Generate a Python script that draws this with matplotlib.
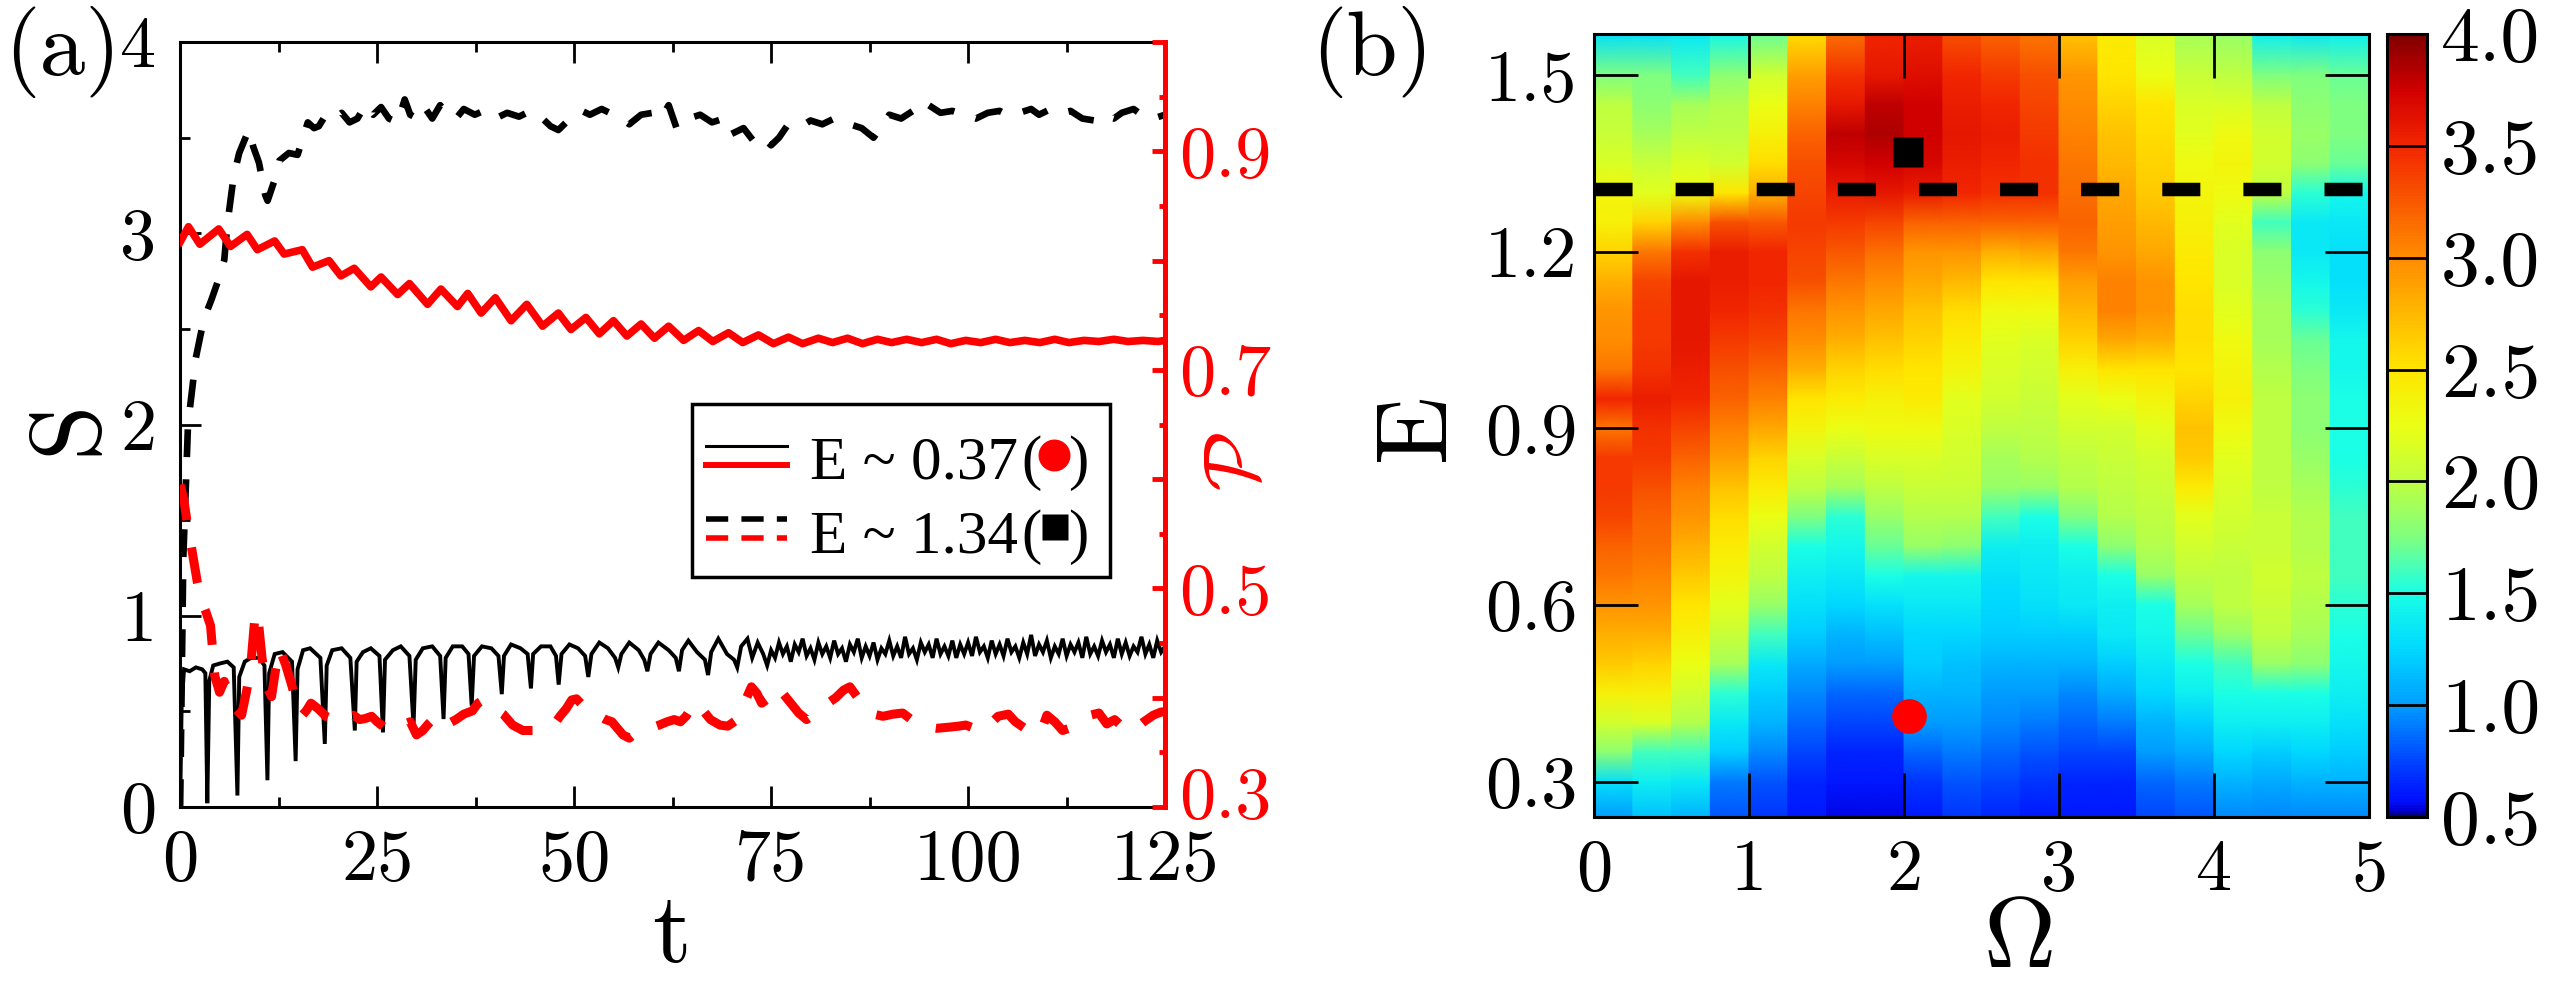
import numpy as np
import matplotlib
matplotlib.use("Agg")
import matplotlib.pyplot as plt
from matplotlib.colors import LinearSegmentedColormap
from matplotlib.patches import Rectangle
from matplotlib.ticker import MultipleLocator, FixedLocator
from matplotlib.transforms import ScaledTranslation

plt.rcParams['font.family'] = 'cmr10'
plt.rcParams['mathtext.fontset'] = 'cm'
plt.rcParams['axes.formatter.use_mathtext'] = True
plt.rcParams['lines.scale_dashes'] = False

# ---------------- panel (a) data ----------------
# S(t), E ~ 0.37 (black solid): early part with periodic dips
t_s037 = [0, 0.2, 0.5, 1.2, 2.0, 2.8, 3.2, 3.45, 3.7, 4.2, 5.0, 6.0, 6.8, 7.27, 7.5, 8.2,
          9.0, 10.0, 10.7, 11.08, 11.3, 12.0, 13.0, 14.2, 14.66, 14.9, 15.6, 16.5, 17.8,
          18.36, 18.6, 19.3, 20.5, 21.6, 22.17, 22.4, 23.2, 24.2, 25.3, 25.74, 26.0, 27.0,
          28.0, 29.1, 29.62, 29.9, 30.8, 32.0, 33.0, 33.43, 33.7, 34.6, 35.8, 36.6, 37.0,
          37.3, 38.3, 39.5, 40.4, 40.82, 41.1, 42.0, 43.2, 44.1, 44.52, 44.8, 45.8, 47.0,
          47.7, 48.04, 48.4, 49.4, 50.5, 51.4, 51.8, 52.2, 53.2, 54.3, 55.2, 55.6, 56.0,
          57.0, 58.2, 58.9, 59.3, 59.7, 60.7, 62.0, 62.9, 63.3, 63.7, 64.5, 65.6, 66.6,
          67.0, 67.4, 68.3, 69.4, 70.3, 70.7, 71.2, 72.0, 72.6, 73.3, 74.0, 74.5]
S_s037 = [0, 0.55, 0.72, 0.71, 0.73, 0.72, 0.70, 0.02, 0.66, 0.74, 0.75, 0.76, 0.73, 0.06,
          0.68, 0.76, 0.78, 0.78, 0.74, 0.14, 0.70, 0.80, 0.81, 0.76, 0.24, 0.72, 0.82, 0.83,
          0.78, 0.33, 0.74, 0.82, 0.83, 0.78, 0.40, 0.76, 0.81, 0.83, 0.79, 0.39, 0.77, 0.82,
          0.84, 0.79, 0.42, 0.77, 0.83, 0.84, 0.79, 0.46, 0.78, 0.84, 0.84, 0.80, 0.53, 0.79,
          0.84, 0.83, 0.79, 0.59, 0.79, 0.85, 0.83, 0.80, 0.62, 0.80, 0.84, 0.84, 0.79, 0.64,
          0.80, 0.85, 0.83, 0.79, 0.68, 0.80, 0.86, 0.83, 0.78, 0.73, 0.80, 0.86, 0.82, 0.77,
          0.71, 0.80, 0.86, 0.82, 0.78, 0.71, 0.82, 0.87, 0.81, 0.77, 0.69, 0.81, 0.88, 0.80,
          0.77, 0.73, 0.84, 0.88, 0.78, 0.86, 0.80, 0.74]
# late noisy part, sampled every 0.5 from t = 75 to 125
t_s037_late = np.arange(75.0, 125.01, 0.5)
S_s037_late = [0.82, 0.78, 0.86, 0.80, 0.84, 0.76, 0.85, 0.81, 0.88, 0.79,
               0.83, 0.77, 0.86, 0.80, 0.84, 0.78, 0.87, 0.80, 0.83, 0.76,
               0.85, 0.81, 0.88, 0.78, 0.84, 0.79, 0.86, 0.77, 0.83, 0.80,
               0.87, 0.79, 0.84, 0.78, 0.89, 0.80, 0.83, 0.77, 0.86, 0.81,
               0.85, 0.78, 0.88, 0.80, 0.84, 0.79, 0.87, 0.78, 0.85, 0.80,
               0.86, 0.79, 0.89, 0.81, 0.84, 0.78, 0.87, 0.80, 0.85, 0.79,
               0.88, 0.81, 0.84, 0.78, 0.86, 0.80, 0.90, 0.79, 0.85, 0.81,
               0.87, 0.78, 0.84, 0.80, 0.88, 0.79, 0.85, 0.81, 0.86, 0.78,
               0.89, 0.80, 0.84, 0.79, 0.87, 0.81, 0.85, 0.78, 0.88, 0.80,
               0.86, 0.79, 0.84, 0.81, 0.89, 0.80, 0.85, 0.78, 0.87, 0.81,
               0.84]

# S(t), E ~ 1.34 (black dashed)
t_s134 = [0.0, 0.4, 1.0, 2.0, 3.0, 3.95, 4.8, 5.6, 6.0, 6.8,
          7.5, 8.3, 8.7, 9.3, 10.0, 10.8, 11.1, 12.0, 12.6, 13.8,
          14.9, 15.6, 16.2, 17.0, 17.6, 18.5, 19.5, 20.5, 21.5, 22.5,
          23.5, 24.5, 25.5, 26.5, 27.6, 28.5, 29.2, 30.1, 31.0, 32.0,
          33.0, 34.0, 35.0, 36.0, 37.4, 38.5, 40.0, 41.5, 43.0, 44.5,
          46.0, 47.0, 48.0, 49.5, 51.0, 52.0, 53.5, 55.0, 56.0, 57.0,
          58.5, 60.0, 61.0, 62.0, 63.0, 64.5, 66.0, 67.5, 69.0, 70.0,
          71.5, 73.0, 74.0, 75.0, 76.0, 77.0, 78.5, 80.0, 81.5, 83.0,
          84.0, 85.0, 86.5, 88.0, 89.0, 90.0, 91.5, 93.0, 94.0, 95.0,
          96.5, 98.0, 99.5, 101.0, 102.5, 104.0, 105.0, 106.5, 108.0, 109.0,
          110.5, 112.0, 113.0, 114.5, 116.0, 117.0, 118.5, 119.5, 121.0, 122.0,
          123.5, 125.0]
S_s134 = [0.0, 1.3, 2.0, 2.35, 2.55, 2.65, 2.75, 2.86, 3.05, 3.3,
          3.42, 3.5, 3.54, 3.45, 3.37, 3.2, 3.17, 3.28, 3.38, 3.42,
          3.41, 3.5, 3.58, 3.55, 3.56, 3.62, 3.6, 3.63, 3.58, 3.6,
          3.67, 3.62, 3.66, 3.6, 3.58, 3.7, 3.62, 3.6, 3.66, 3.6,
          3.67, 3.62, 3.6, 3.65, 3.62, 3.64, 3.6, 3.63, 3.61, 3.64,
          3.6, 3.56, 3.54, 3.6, 3.64, 3.62, 3.65, 3.62, 3.6, 3.57,
          3.62, 3.63, 3.6, 3.67, 3.55, 3.6, 3.62, 3.58, 3.6, 3.52,
          3.55, 3.47, 3.5, 3.46, 3.5, 3.56, 3.55, 3.59, 3.57, 3.6,
          3.58, 3.57, 3.55, 3.5, 3.56, 3.62, 3.6, 3.64, 3.62, 3.67,
          3.63, 3.64, 3.62, 3.6, 3.63, 3.64, 3.62, 3.63, 3.65, 3.62,
          3.65, 3.63, 3.64, 3.6, 3.59, 3.62, 3.6, 3.63, 3.65, 3.62,
          3.6, 3.62]

# P(t), E ~ 0.37 (red solid)
t_p037 = [0, 1.06, 2.5, 4.9, 6.4, 8.5, 9.8, 12.0, 13.2, 15.5,
          16.8, 18.9, 20.4, 22.1, 24.2, 25.5, 27.6, 29.1, 31.4, 33.1,
          35.2, 36.5, 38.2, 40.0, 42.0, 44.0, 46.0, 48.0, 49.6, 51.5,
          53.2, 55.0, 56.7, 58.5, 60.2, 62.0, 63.9, 65.8, 67.6, 69.6,
          71.4, 73.4, 75.3, 77.2, 79.0, 81.0, 82.8, 84.7, 86.6, 88.5,
          90.3, 92.2, 94.1, 96.0, 97.8, 99.7, 101.6, 103.5, 105.3, 107.2,
          109.1, 111.0, 112.8, 114.7, 116.6, 118.5, 120.3, 122.2, 124.1, 125.0]
P_p037 = [0.817, 0.831, 0.815, 0.829, 0.813, 0.824, 0.81, 0.818, 0.806, 0.81,
          0.794, 0.80, 0.786, 0.793, 0.776, 0.785, 0.769, 0.779, 0.76, 0.774,
          0.758, 0.77, 0.752, 0.766, 0.745, 0.76, 0.74, 0.752, 0.737, 0.748,
          0.733, 0.745, 0.731, 0.742, 0.729, 0.74, 0.727, 0.736, 0.726, 0.734,
          0.725, 0.732, 0.724, 0.730, 0.724, 0.729, 0.725, 0.729, 0.724, 0.728,
          0.725, 0.728, 0.725, 0.728, 0.724, 0.727, 0.725, 0.728, 0.725, 0.727,
          0.725, 0.728, 0.725, 0.727, 0.726, 0.728, 0.726, 0.727, 0.726, 0.727]

# P(t), E ~ 1.34 (red dashed)
t_p134 = [0, 0.5, 1.0, 1.5, 2.2, 2.7, 3.3, 3.86, 4.4, 5.0,
          5.6, 6.4, 7.0, 7.8, 8.4, 8.9, 9.55, 10.0, 10.4, 11.0,
          11.6, 12.1, 12.6, 13.4, 14.1, 14.8, 15.5, 16.0, 16.6, 17.5,
          18.5, 19.5, 20.6, 21.3, 22.0, 22.8, 23.5, 24.3, 25.0, 25.7,
          26.3, 27.5, 28.5, 29.2, 30.0, 30.8, 31.5, 32.5, 33.7, 35.0,
          36.0, 37.1, 37.8, 38.5, 39.2, 40.0, 41.0, 42.2, 43.5, 45.0,
          46.3, 47.4, 48.2, 49.0, 49.7, 50.3, 51.1, 51.9, 53.0, 54.0,
          54.8, 55.5, 56.2, 57.0, 57.5, 58.5, 59.6, 60.8, 61.8, 62.7,
          63.5, 64.2, 65.0, 65.5, 66.4, 67.3, 68.5, 69.5, 70.7, 71.6,
          72.5, 73.2, 73.8, 74.8, 75.8, 76.6, 77.5, 78.5, 79.5, 80.5,
          81.5, 82.4, 83.2, 84.2, 85.0, 86.0, 87.0, 88.0, 89.2, 90.5,
          91.7, 92.8, 93.8, 94.9, 96.0, 97.5, 98.8, 99.7, 100.8, 101.8,
          102.8, 103.8, 105.1, 106.0, 107.2, 108.3, 109.2, 110.0, 111.0, 112.0,
          112.8, 113.6, 114.5, 115.5, 116.6, 117.6, 118.6, 119.5, 120.4, 121.3,
          122.3, 123.5, 124.5, 125.0]
P_p134 = [0.595, 0.58, 0.555, 0.535, 0.505, 0.489, 0.478, 0.466, 0.42, 0.405,
          0.415, 0.401, 0.39, 0.384, 0.405, 0.424, 0.479, 0.465, 0.436, 0.41,
          0.401, 0.425, 0.445, 0.43, 0.413, 0.395, 0.384, 0.388, 0.395, 0.39,
          0.383, 0.38, 0.378, 0.383, 0.384, 0.38, 0.381, 0.383, 0.378, 0.374,
          0.37, 0.372, 0.376, 0.378, 0.366, 0.37, 0.376, 0.383, 0.375, 0.38,
          0.385, 0.388, 0.395, 0.398, 0.393, 0.39, 0.385, 0.375, 0.37, 0.37,
          0.372, 0.375, 0.383, 0.39, 0.398, 0.399, 0.393, 0.39, 0.384, 0.38,
          0.378, 0.372, 0.366, 0.363, 0.366, 0.37, 0.372, 0.375, 0.378, 0.38,
          0.378, 0.383, 0.392, 0.396, 0.388, 0.38, 0.375, 0.374, 0.38, 0.395,
          0.41, 0.404, 0.395, 0.4, 0.41, 0.403, 0.395, 0.386, 0.38, 0.385,
          0.39, 0.396, 0.40, 0.407, 0.41, 0.4, 0.39, 0.385, 0.383, 0.385,
          0.386, 0.38, 0.376, 0.373, 0.372, 0.373, 0.374, 0.375, 0.372, 0.37,
          0.376, 0.383, 0.385, 0.378, 0.372, 0.37, 0.368, 0.384, 0.378, 0.37,
          0.372, 0.374, 0.38, 0.384, 0.386, 0.376, 0.38, 0.374, 0.37, 0.372,
          0.378, 0.384, 0.387, 0.387]

legend_labels = ["E ~ 0.37", "E ~ 1.34"]

# ---------------- panel (b) data ----------------
omega_edges = np.linspace(0, 5, 21)
# E rows, top to bottom
E_rows = [1.57, 1.50, 1.45, 1.40, 1.35, 1.30, 1.25, 1.20, 1.15, 1.10, 1.05, 1.00, 0.95,
          0.90, 0.85, 0.80, 0.75, 0.70, 0.65, 0.60, 0.55, 0.50, 0.45, 0.40, 0.35, 0.30, 0.24]
# one list per Omega column (0-0.25, 0.25-0.5, ...), values top to bottom
col00 = [1.3, 1.75, 2.0, 2.05, 2.15, 2.35, 2.4, 2.6, 2.8, 2.95, 3.0, 3.1, 3.5, 3.1, 3.4, 3.4, 3.35, 3.2, 3.1, 2.95, 2.8, 2.65, 2.4, 2.1, 1.8, 1.3, 1.0]
col01 = [1.3, 1.75, 1.8, 1.9, 2.05, 2.2, 2.6, 3.1, 3.35, 3.4, 3.4, 3.45, 3.55, 3.45, 3.4, 3.3, 3.2, 3.15, 3.05, 2.95, 2.8, 2.6, 2.4, 2.15, 1.6, 1.4, 1.15]
col02 = [1.35, 1.6, 1.9, 2.0, 2.15, 2.3, 3.0, 3.45, 3.6, 3.6, 3.6, 3.55, 3.5, 3.35, 3.2, 3.05, 2.95, 2.8, 2.65, 2.5, 2.4, 2.25, 2.1, 1.95, 1.6, 1.35, 1.1]
col03 = [1.45, 1.8, 1.95, 2.0, 2.1, 2.5, 3.3, 3.55, 3.55, 3.5, 3.4, 3.3, 3.2, 3.05, 2.9, 2.7, 2.55, 2.45, 2.35, 2.2, 2.05, 1.9, 1.55, 1.35, 1.2, 0.9, 0.8]
col04 = [1.7, 2.1, 2.25, 2.4, 2.55, 2.8, 3.25, 3.5, 3.5, 3.45, 3.35, 3.2, 3.05, 2.85, 2.6, 2.45, 2.25, 2.1, 2.0, 1.85, 1.6, 1.35, 1.2, 1.1, 0.95, 0.8, 0.7]
col05 = [2.55, 2.9, 3.05, 3.2, 3.3, 3.35, 3.4, 3.35, 3.3, 3.1, 3.0, 2.8, 2.5, 2.35, 2.15, 2.0, 1.75, 1.5, 1.4, 1.3, 1.2, 1.05, 0.95, 0.85, 0.75, 0.65, 0.6]
col06 = [3.15, 3.45, 3.6, 3.8, 3.7, 3.55, 3.4, 3.25, 3.1, 2.95, 2.8, 2.6, 2.45, 2.25, 2.05, 1.9, 1.55, 1.45, 1.35, 1.25, 1.1, 1.0, 0.85, 0.75, 0.65, 0.6, 0.55]
col07 = [3.5, 3.6, 3.8, 3.85, 3.75, 3.6, 3.35, 3.15, 3.0, 2.85, 2.7, 2.55, 2.4, 2.3, 2.15, 2.0, 1.85, 1.7, 1.5, 1.3, 1.15, 1.0, 0.85, 0.75, 0.65, 0.6, 0.55]
col08 = [3.55, 3.65, 3.75, 3.75, 3.7, 3.55, 3.2, 2.95, 2.85, 2.7, 2.6, 2.5, 2.45, 2.3, 2.15, 2.05, 1.95, 1.85, 1.45, 1.35, 1.25, 1.2, 1.1, 1.0, 0.85, 0.7, 0.6]
col09 = [3.3, 3.5, 3.55, 3.6, 3.55, 3.5, 3.2, 2.95, 2.75, 2.55, 2.45, 2.35, 2.2, 2.15, 2.1, 2.05, 1.95, 1.8, 1.45, 1.35, 1.25, 1.15, 1.1, 1.0, 0.9, 0.8, 0.7]
col10 = [3.2, 3.4, 3.5, 3.55, 3.5, 3.45, 3.2, 2.8, 2.5, 2.3, 2.2, 2.15, 2.1, 2.0, 1.9, 1.85, 1.6, 1.4, 1.3, 1.25, 1.2, 1.1, 1.0, 0.95, 0.85, 0.75, 0.65]
col11 = [3.1, 3.3, 3.35, 3.4, 3.45, 3.45, 3.2, 2.85, 2.5, 2.3, 2.15, 2.1, 2.05, 2.0, 1.95, 1.85, 1.5, 1.4, 1.35, 1.3, 1.2, 1.1, 1.0, 0.9, 0.8, 0.7, 0.6]
col12 = [2.7, 2.95, 3.0, 3.05, 3.1, 3.15, 3.2, 3.1, 2.9, 2.75, 2.6, 2.4, 2.2, 2.1, 2.0, 1.95, 1.75, 1.5, 1.4, 1.35, 1.2, 1.1, 0.95, 0.85, 0.75, 0.65, 0.6]
col13 = [2.45, 2.5, 2.6, 2.7, 2.75, 2.85, 2.9, 2.95, 3.05, 3.05, 2.85, 2.5, 2.25, 2.1, 2.05, 2.0, 1.95, 1.8, 1.5, 1.4, 1.35, 1.2, 1.05, 0.9, 0.75, 0.65, 0.6]
col14 = [2.15, 2.25, 2.5, 2.55, 2.6, 2.65, 2.75, 2.85, 2.95, 2.95, 2.8, 2.5, 2.35, 2.2, 2.1, 2.05, 2.0, 1.95, 1.85, 1.5, 1.45, 1.35, 1.25, 1.1, 1.0, 0.85, 0.75]
col15 = [1.9, 2.05, 2.15, 2.2, 2.3, 2.35, 2.4, 2.45, 2.5, 2.55, 2.55, 2.5, 2.6, 2.7, 2.65, 2.45, 2.2, 2.1, 2.0, 1.9, 1.7, 1.5, 1.4, 1.2, 1.05, 0.9, 0.8]
col16 = [1.85, 2.0, 2.15, 2.3, 2.35, 2.3, 2.2, 2.15, 2.15, 2.2, 2.3, 2.35, 2.4, 2.3, 2.2, 2.15, 2.1, 2.05, 2.0, 2.0, 1.85, 1.6, 1.5, 1.4, 1.25, 1.1, 0.95]
col17 = [1.4, 1.75, 2.0, 2.1, 2.1, 2.0, 1.6, 1.8, 1.85, 1.9, 1.9, 1.95, 2.0, 2.0, 2.0, 2.0, 2.05, 2.05, 2.1, 2.05, 2.0, 1.85, 1.5, 1.4, 1.2, 1.05, 0.95]
col18 = [1.35, 1.75, 1.8, 1.85, 1.8, 1.55, 1.35, 1.35, 1.45, 1.55, 1.7, 1.75, 1.8, 1.8, 1.85, 1.9, 1.95, 1.95, 2.0, 1.95, 1.9, 1.8, 1.5, 1.4, 1.25, 1.1, 0.95]
col19 = [1.4, 1.7, 1.75, 1.75, 1.7, 1.45, 1.35, 1.3, 1.3, 1.35, 1.45, 1.45, 1.5, 1.5, 1.5, 1.55, 1.6, 1.6, 1.6, 1.55, 1.5, 1.45, 1.4, 1.3, 1.2, 1.1, 0.95]
E_cut = 1.306
point_circle = (2.03, 0.412)
point_square = (2.024, 1.37)

# ---------------- figure ----------------
fig = plt.figure(figsize=(25.55, 9.85), dpi=100)

TICK_FS = 52
LAB_FS = 72

# ======== panel (a) ========
axA = fig.add_axes([0.0705, 0.1807, 0.3855, 0.7766])
axA.plot(list(t_s037) + list(t_s037_late), S_s037 + S_s037_late, color='black', lw=2.8,
         solid_joinstyle='miter')
axA.plot(t_s134, S_s134, color='black', lw=4.8, dashes=(20, 16), dash_capstyle='butt')
axA.set_xlim(0, 125)
axA.set_ylim(0, 4)
axA.set_xticks([0, 25, 50, 75, 100, 125])
axA.set_xticklabels(['0', '25', '50', '75', '100', '125'])
axA.xaxis.set_minor_locator(MultipleLocator(12.5))
axA.set_yticks([0, 1, 2, 3, 4])
axA.set_yticklabels(['0', '1', '2', '3', '4'])
axA.yaxis.set_minor_locator(MultipleLocator(0.5))
axA.tick_params(which='both', direction='in', top=True, right=False, width=2,
                labelsize=TICK_FS)
axA.tick_params(which='major', length=15)
axA.tick_params(which='minor', length=7.5)
axA.tick_params(axis='y', pad=17)
axA.tick_params(axis='x', pad=16)
for s in ['left', 'top', 'bottom']:
    axA.spines[s].set_linewidth(2.2)
axA.spines['right'].set_visible(False)

axP = axA.twinx()
axP.plot(t_p037, P_p037, color='red', lw=5.5)
axP.plot(t_p134, P_p134, color='red', lw=6.5, dashes=(26, 20), dash_capstyle='butt')
axP.set_ylim(0.3, 1.0)
axP.yaxis.set_major_locator(FixedLocator([0.3, 0.4, 0.5, 0.6, 0.7, 0.8, 0.9, 1.0]))
axP.set_yticklabels(['0.3', '', '0.5', '', '0.7', '', '0.9', ''])
axP.yaxis.set_minor_locator(MultipleLocator(0.05))
axP.tick_params(which='both', direction='in', color='red', labelcolor='red', width=3.5,
                labelsize=TICK_FS, pad=10)
axP.tick_params(which='major', length=9.5)
axP.tick_params(which='minor', length=4)
for s in ['left', 'top', 'bottom']:
    axP.spines[s].set_visible(False)
axP.spines['right'].set_color('red')
axP.spines['right'].set_linewidth(3.6)
# the lowest right label sits a little above its tick, as in the original
low_lab = axP.yaxis.get_major_ticks()[0].label2
low_lab.set_transform(low_lab.get_transform() +
                      ScaledTranslation(0, 14 / 100, fig.dpi_scale_trans))

# legend box, drawn by hand
tr = axP.transAxes
axP.add_patch(Rectangle((0.52, 0.3007), 0.424, 0.2261, transform=tr, facecolor='white',
                        edgecolor='black', lw=2.5, zorder=5))
axP.plot([0.534, 0.616], [0.4719, 0.4719], transform=tr, color='black', lw=2.2, zorder=6)
axP.plot([0.534, 0.616], [0.4470, 0.4470], transform=tr, color='red', lw=4.3, zorder=6)
axP.plot([0.534, 0.616], [0.3765, 0.3765], transform=tr, color='black', lw=4.0, zorder=6,
         dashes=(16, 9.5), dash_capstyle='butt')
axP.plot([0.534, 0.616], [0.3516, 0.3516], transform=tr, color='red', lw=4.0, zorder=6,
         dashes=(16, 9.5), dash_capstyle='butt')
for lbl, yb in zip(legend_labels, [0.430, 0.3333]):
    axP.text(0.6396, yb, lbl, transform=tr, ha='left', va='baseline', fontsize=44,
             family='Liberation Serif', zorder=7)
    axP.text(0.864, yb, '(', transform=tr, ha='center', va='baseline', fontsize=44,
             family='Liberation Serif', zorder=7)
    axP.text(0.9117, yb, ')', transform=tr, ha='center', va='baseline', fontsize=44,
             family='Liberation Serif', zorder=7)
axP.plot([0.887], [0.460], 'o', transform=tr, color='red', ms=23, mec='none', zorder=7,
         clip_on=False)
axP.plot([0.888], [0.3664], 's', transform=tr, color='black', ms=19, mec='none', zorder=7,
         clip_on=False)

fig.text(0.0274, 0.5665, 'S', rotation=90, ha='center', va='center', fontsize=LAB_FS)
fig.text(0.263, 0.0487, 't', ha='center', va='center', fontsize=LAB_FS)
fig.text(0.4850, 0.531, r'$\mathcal{P}$', rotation=90, ha='center', va='center',
         fontsize=56, color='red')
fig.text(0.0245, 0.947, '(a)', ha='center', va='center', fontsize=66)

# ======== panel (b) ========
cmap = LinearSegmentedColormap.from_list('jetlike', [
    (0.000, (0.0, 0.0, 0.5)),
    (0.008, (0.0, 0.0, 0.85)),
    (0.020, (0.0, 0.06, 1.0)),
    (0.071, (0.0, 0.27, 1.0)),
    (0.143, (0.0, 0.62, 1.0)),
    (0.214, (0.0, 0.85, 1.0)),
    (0.286, (0.1, 1.0, 0.9)),
    (0.357, (0.5, 1.0, 0.5)),
    (0.429, (0.75, 1.0, 0.25)),
    (0.500, (0.92, 1.0, 0.08)),
    (0.571, (1.0, 0.9, 0.0)),
    (0.714, (1.0, 0.55, 0.0)),
    (0.857, (0.95, 0.15, 0.0)),
    (0.929, (0.82, 0.0, 0.0)),
    (1.000, (0.5, 0.0, 0.0))])

cols = np.array([col00, col01, col02, col03, col04, col05, col06, col07, col08, col09,
                 col10, col11, col12, col13, col14, col15, col16, col17, col18, col19])
Z = np.repeat(cols.T, 2, axis=1)
xv = np.repeat(omega_edges, 2)[1:-1]
X, Y = np.meshgrid(xv, np.array(E_rows))

axB = fig.add_axes([0.6239, 0.1706, 0.3033, 0.7949])
mesh = axB.pcolormesh(X, Y, Z, shading='gouraud', cmap=cmap, vmin=0.5, vmax=4.0)
axB.axhline(E_cut, color='black', lw=9.7, dashes=(27.4, 31), dash_capstyle='butt')
axB.plot([point_circle[0]], [point_circle[1]], 'o', color='red', ms=25, mec='none')
axB.plot([point_square[0]], [point_square[1]], 's', color='black', ms=22, mec='none')
axB.set_xlim(0, 5)
axB.set_ylim(0.24, 1.57)
axB.set_xticks([0, 1, 2, 3, 4, 5])
axB.set_xticklabels(['0', '1', '2', '3', '4', '5'])
axB.set_yticks([0.3, 0.6, 0.9, 1.2, 1.5])
axB.set_yticklabels(['0.3', '0.6', '0.9', '1.2', '1.5'])
axB.tick_params(direction='in', top=True, right=True, length=31.5, width=2,
                labelsize=TICK_FS)
axB.tick_params(axis='x', pad=16)
axB.tick_params(axis='y', pad=12)
for s in axB.spines.values():
    s.set_linewidth(2.2)

cax = fig.add_axes([0.9342, 0.1706, 0.01566, 0.7949])
cb = fig.colorbar(mesh, cax=cax, ticks=[0.5, 1.0, 1.5, 2.0, 2.5, 3.0, 3.5, 4.0])
cb.ax.set_yticklabels(['0.5', '1.0', '1.5', '2.0', '2.5', '3.0', '3.5', '4.0'])
cb.ax.tick_params(direction='in', length=29, width=2, labelsize=56, pad=10)
cb.outline.set_linewidth(2.2)

fig.text(0.555, 0.567, 'E', rotation=90, ha='center', va='center', fontsize=LAB_FS)
fig.text(0.7898, 0.0437, r'$\Omega$', ha='center', va='center', fontsize=LAB_FS)
fig.text(0.537, 0.947, '(b)', ha='center', va='center', fontsize=66)

fig.savefig('out.png', dpi=100)
